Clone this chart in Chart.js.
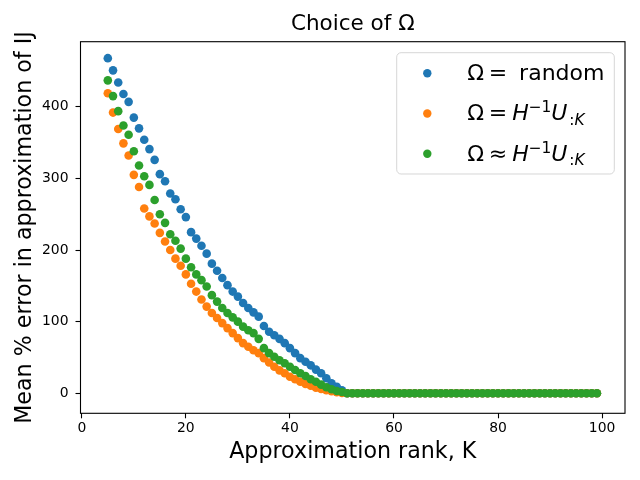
<!DOCTYPE html>
<html>
<head>
<meta charset="utf-8">
<script src="https://cdn.jsdelivr.net/npm/chart.js@4.4.1/dist/chart.umd.min.js"></script>
<style>
html, body { margin: 0; padding: 0; background: #ffffff; }
#wrap { width: 640px; height: 480px; }
</style>
</head>
<body>
<div id="wrap"><canvas id="c" width="640" height="480"></canvas></div>
<script>
// ---------- data ----------
const ranks = [5,6,7,8,9,10,11,12,13,14,15,16,17,18,19,20,21,22,23,24,25,26,27,28,29,30,
  31,32,33,34,35,36,37,38,39,40,41,42,43,44,45,46,47,48,49,50,
  51,52,53,54,55,56,57,58,59,60,61,62,63,64,65,66,67,68,69,70,71,72,73,74,75,
  76,77,78,79,80,81,82,83,84,85,86,87,88,89,90,91,92,93,94,95,96,97,98,99];

const randomErr = [468,451,434,418,407,385,370,354,341,326,306,296,279,271,257,246,225,216,206,195,
  181,171,161,151,142,135,126,119,113,107,94,86,81,76,70,63,56,49,44,39,33,28,21,14,9,4,
  0,0,0,0,0,0,0,0,0,0,0,0,0,0,0,0,0,0,0,0,0,0,0,0,0,0,0,0,0,0,0,0,0,0,0,0,0,0,0,0,0,0,0,0,0,0,0,0,0];

const exactErr = [419,392,369,349,332,305,288,258,247,237,224,212,200,188,178,166,153,142,131,121,
  112,105,98,91,84,77,70,65,60,56,49,43,37,32,28,23,19.5,16,13,10.6,7.8,6,4.2,2.8,1.5,0.5,
  0,0,0,0,0,0,0,0,0,0,0,0,0,0,0,0,0,0,0,0,0,0,0,0,0,0,0,0,0,0,0,0,0,0,0,0,0,0,0,0,0,0,0,0,0,0,0,0,0];

const approxErr = [437,415,394,374,361,338,318,303,291,270,250,238,222,213,202,188,176,166,158,149,
  137,128,119,112,106,100,93,88,84,76,63,56,51,46,42,37,32.5,28,24,19.5,16,12,8.4,5.6,3.2,1.8,
  0,0,0,0,0,0,0,0,0,0,0,0,0,0,0,0,0,0,0,0,0,0,0,0,0,0,0,0,0,0,0,0,0,0,0,0,0,0,0,0,0,0,0,0,0,0,0,0,0];

const xTicks = [0,20,40,60,80,100];
const yTicks = [0,100,200,300,400];
const seriesNames = ['$Ω=$ random', '$Ω=H^{−1}U_{:K}$', '$Ω≈H^{−1}U_{:K}$'];
const seriesColors = ['#1f77b4', '#ff7f0e', '#2ca02c'];
const titleText = 'Choice of Ω';
const xLabel = 'Approximation rank, K';
const yLabel = 'Mean % error in approximation of IJ';

// ---------- helpers ----------
const FONT = 'DejaVu Sans';
Chart.defaults.font.family = FONT;
Chart.defaults.color = '#000';

function toPoints(vals) { return ranks.map((x, i) => ({ x: x, y: vals[i] })); }

function parseLabel(s) {
  const runs = []; let math = false; let i = 0;
  while (i < s.length) {
    const c = s[i];
    if (c === '$') { math = !math; i++; continue; }
    if (math && (c === '^' || c === '_')) {
      const end = s.indexOf('}', i);
      const inner = s.slice(i + 2, end);
      for (const ch of inner) runs.push({ ch: ch, math: true, script: c === '^' ? 'sup' : 'sub' });
      i = end + 1; continue;
    }
    runs.push({ ch: c, math: math, script: null });
    i++;
  }
  return runs;
}

function drawRich(ctx, s, x, y, size) {
  const runs = parseLabel(s);
  let prevScript = null;
  for (const r of runs) {
    const sz = r.script ? size * 0.7 : size;
    const italic = r.math && /[A-Za-z]/.test(r.ch);
    const dy = r.script === 'sup' ? -size * 0.36 : (r.script === 'sub' ? size * 0.2 : 0);
    const rel = r.math && (r.ch === '=' || r.ch === '≈');
    if (r.script === 'sub' && prevScript !== 'sub') x += size * 0.08;
    if (rel) x += size * 0.22;
    ctx.font = (italic ? 'italic ' : '') + sz + 'px "' + FONT + '"';
    ctx.fillText(r.ch, x, y + dy);
    x += ctx.measureText(r.ch).width;
    if (rel) x += size * 0.22;
    prevScript = r.script;
  }
}

const decorPlugin = {
  id: 'decor',
  afterDatasetsDraw(chart) {
    const { ctx, chartArea: a } = chart;
    ctx.save();
    ctx.strokeStyle = '#000';
    ctx.lineWidth = 1.1;
    ctx.strokeRect(a.left, a.top, a.right - a.left, a.bottom - a.top);
    ctx.restore();
  },
  afterDraw(chart) {
    const { ctx, chartArea: a } = chart;
    const bw = 217.6, bh = 121.3;
    const bx = a.right - 10.7 - bw, by = a.top + 11;
    ctx.save();
    ctx.beginPath();
    if (ctx.roundRect) ctx.roundRect(bx, by, bw, bh, 4.4); else ctx.rect(bx, by, bw, bh);
    ctx.fillStyle = 'rgba(255,255,255,0.8)';
    ctx.fill();
    ctx.strokeStyle = 'rgba(204,204,204,0.8)';
    ctx.lineWidth = 1;
    ctx.stroke();
    ctx.textBaseline = 'alphabetic';
    ctx.textAlign = 'left';
    for (let i = 0; i < seriesNames.length; i++) {
      ctx.beginPath();
      ctx.arc(bx + 30.6, by + 20.6 + i * 40.2, 4.2, 0, Math.PI * 2);
      ctx.fillStyle = seriesColors[i];
      ctx.fill();
      ctx.fillStyle = '#000';
      drawRich(ctx, seriesNames[i], bx + 70.5, by + 27.5 + i * 40.2, 22);
    }
    ctx.restore();
  }
};

const tickFont = { family: FONT, size: 13.9 };
const gridOpts = { display: true, drawOnChartArea: false, drawTicks: true, tickLength: 5, tickColor: '#000', tickWidth: 1.1 };

new Chart(document.getElementById('c'), {
  type: 'scatter',
  data: {
    datasets: [
      { label: seriesNames[0], data: toPoints(randomErr), backgroundColor: seriesColors[0], borderWidth: 0, pointRadius: 4.3, order: 3 },
      { label: seriesNames[1], data: toPoints(exactErr), backgroundColor: seriesColors[1], borderWidth: 0, pointRadius: 4.3, order: 2 },
      { label: seriesNames[2], data: toPoints(approxErr), backgroundColor: seriesColors[2], borderWidth: 0, pointRadius: 4.3, order: 1 }
    ]
  },
  options: {
    responsive: false,
    animation: false,
    devicePixelRatio: 1,
    layout: { padding: { left: 0, right: 15, top: 0, bottom: 0 } },
    plugins: {
      legend: { display: false },
      tooltip: { enabled: false },
      title: {
        display: true, text: titleText, fullSize: false, color: '#000',
        font: { family: FONT, size: 21.5, weight: 'normal', lineHeight: 1.2 },
        padding: { top: 11.4, bottom: 4.5 }
      }
    },
    scales: {
      x: {
        type: 'linear', min: -0.25, max: 104.4,
        afterBuildTicks: s => { s.ticks = xTicks.map(v => ({ value: v })); },
        afterFit: s => { s.height = 66.7; },
        ticks: { font: tickFont, color: '#000', padding: 2, autoSkip: false, maxRotation: 0, callback: v => String(v) },
        grid: gridOpts,
        border: { display: false },
        title: { display: true, text: xLabel, color: '#000', font: { family: FONT, size: 22.2, lineHeight: 1.2 }, padding: { top: 0, bottom: 14.4 } }
      },
      y: {
        type: 'linear', min: -28, max: 491,
        afterBuildTicks: s => { s.ticks = yTicks.map(v => ({ value: v })); },
        afterFit: s => { s.width = 80.5; },
        ticks: { font: tickFont, color: '#000', padding: 7, autoSkip: false, callback: v => String(v) },
        grid: gridOpts,
        border: { display: false },
        title: { display: true, text: yLabel, color: '#000', font: { family: FONT, size: 22.2, lineHeight: 1.2 }, padding: { top: 12, bottom: 0 } }
      }
    }
  },
  plugins: [decorPlugin]
});
</script>
</body>
</html>
